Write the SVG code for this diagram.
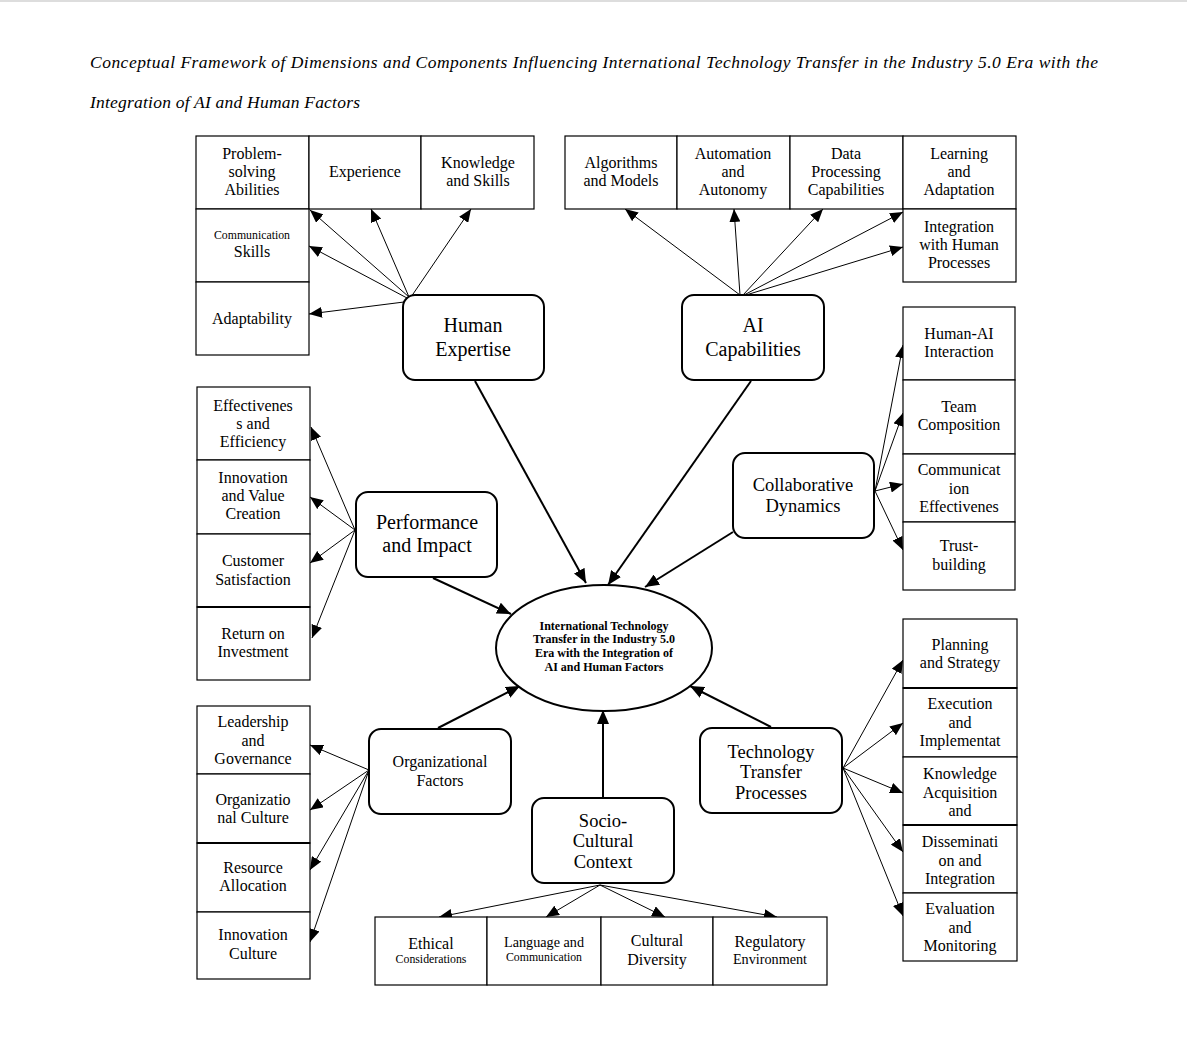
<svg xmlns="http://www.w3.org/2000/svg" width="1187" height="1053" viewBox="0 0 1187 1053">
<style>
text{font-family:"Liberation Serif","Times New Roman",serif;fill:#000;text-anchor:middle}
.t{font-size:16px}
.s{font-size:11.8px}
.m{font-size:14.2px}
.big{font-size:20px}
.mid{font-size:18.5px}
.c{font-size:12px;font-weight:bold}
.title{font-size:17.5px;font-style:italic;text-anchor:start}
.box{fill:#fff;stroke:#000;stroke-width:1.2}
.rbox{fill:#fff;stroke:#000;stroke-width:2}
.thin{stroke:#000;stroke-width:1;fill:none;marker-end:url(#ah)}
.thick{stroke:#000;stroke-width:2;fill:none;marker-end:url(#ahb)}
</style>
<defs>
<marker id="ah" markerUnits="userSpaceOnUse" markerWidth="13" markerHeight="11" refX="13" refY="5.5" orient="auto"><path d="M0,0 L13,5.5 L0,11 z" fill="#000"/></marker>
<marker id="ahb" markerUnits="userSpaceOnUse" markerWidth="14" markerHeight="12" refX="14" refY="6" orient="auto"><path d="M0,0 L14,6 L0,12 z" fill="#000"/></marker>
</defs>
<rect width="1187" height="1053" fill="#fff"/>
<line x1="0" y1="1" x2="1187" y2="1" stroke="#ddd" stroke-width="2"/>
<g id="title">
<text class="title" x="90" y="68" textLength="1008" lengthAdjust="spacing">Conceptual Framework of Dimensions and Components Influencing International Technology Transfer in the Industry 5.0 Era with the</text>
<text class="title" x="90" y="108" textLength="270" lengthAdjust="spacing">Integration of AI and Human Factors</text>
</g>

<g id="connectors">
<line class="thin" x1="409" y1="297" x2="310" y2="210"/>
<line class="thin" x1="409" y1="297" x2="371" y2="209"/>
<line class="thin" x1="411" y1="297" x2="471" y2="209"/>
<line class="thin" x1="407" y1="298" x2="309" y2="246"/>
<line class="thin" x1="404" y1="302" x2="309" y2="314"/>
<line class="thin" x1="740" y1="295" x2="625" y2="209"/>
<line class="thin" x1="740" y1="295" x2="734" y2="209"/>
<line class="thin" x1="743" y1="295" x2="823" y2="209"/>
<line class="thin" x1="744" y1="295" x2="903" y2="212"/>
<line class="thin" x1="746" y1="295" x2="903" y2="247"/>
<line class="thin" x1="875" y1="491" x2="903" y2="345"/>
<line class="thin" x1="875" y1="491" x2="903" y2="413"/>
<line class="thin" x1="875" y1="491" x2="903" y2="484"/>
<line class="thin" x1="875" y1="491" x2="903" y2="550"/>
<line class="thin" x1="355" y1="530" x2="311" y2="427"/>
<line class="thin" x1="355" y1="530" x2="310" y2="497"/>
<line class="thin" x1="355" y1="530" x2="310" y2="563"/>
<line class="thin" x1="355" y1="530" x2="312" y2="638"/>
<line class="thin" x1="369" y1="770" x2="310" y2="745"/>
<line class="thin" x1="369" y1="770" x2="310" y2="810"/>
<line class="thin" x1="369" y1="770" x2="310" y2="870"/>
<line class="thin" x1="369" y1="770" x2="310" y2="942"/>
<line class="thin" x1="843" y1="768" x2="903" y2="660"/>
<line class="thin" x1="843" y1="768" x2="903" y2="723"/>
<line class="thin" x1="843" y1="768" x2="903" y2="793"/>
<line class="thin" x1="843" y1="768" x2="903" y2="852"/>
<line class="thin" x1="843" y1="768" x2="903" y2="916"/>
<line class="thin" x1="600" y1="885" x2="439" y2="917"/>
<line class="thin" x1="600" y1="885" x2="546" y2="917"/>
<line class="thin" x1="600" y1="885" x2="665" y2="917"/>
<line class="thin" x1="600" y1="885" x2="777" y2="917"/>
<line class="thick" x1="475" y1="381" x2="586" y2="583"/>
<line class="thick" x1="751" y1="381" x2="608" y2="585"/>
<line class="thick" x1="733" y1="532" x2="645" y2="587"/>
<line class="thick" x1="433" y1="578" x2="511" y2="614"/>
<line class="thick" x1="438" y1="728" x2="520" y2="686"/>
<line class="thick" x1="603" y1="797" x2="603" y2="710"/>
<line class="thick" x1="771" y1="727" x2="690" y2="686"/>
</g>

<g id="center">
<ellipse cx="604" cy="648" rx="108" ry="63" fill="#fff" stroke="#000" stroke-width="2"/>
<text class="c" x="604" y="630">International Technology</text>
<text class="c" x="604" y="643">Transfer in the Industry 5.0</text>
<text class="c" x="604" y="657">Era with the Integration of</text>
<text class="c" x="604" y="671">AI and Human Factors</text>
</g>

<g id="human-expertise">
<rect class="rbox" x="403" y="295" width="141" height="85" rx="12"/>
<text class="big" x="473" y="332">Human</text>
<text class="big" x="473" y="356">Expertise</text>
</g>
<g id="problem-solving">
<rect class="box" x="196" y="136" width="113" height="73"/>
<text class="t" x="252" y="159">Problem-</text><text class="t" x="252" y="177">solving</text><text class="t" x="252" y="195">Abilities</text>
</g>
<g id="experience">
<rect class="box" x="309" y="136" width="112" height="73"/>
<text class="t" x="365" y="177">Experience</text>
</g>
<g id="knowledge-skills">
<rect class="box" x="421" y="136" width="113" height="73"/>
<text class="t" x="478" y="168">Knowledge</text><text class="t" x="478" y="186">and Skills</text>
</g>
<g id="communication-skills">
<rect class="box" x="196" y="209" width="113" height="73"/>
<text class="s" x="252" y="239">Communication</text><text class="t" x="252" y="257">Skills</text>
</g>
<g id="adaptability">
<rect class="box" x="196" y="282" width="113" height="73"/>
<text class="t" x="252" y="324">Adaptability</text>
</g>

<g id="ai-capabilities">
<rect class="rbox" x="682" y="295" width="142" height="85" rx="12"/>
<text class="big" x="753" y="332">AI</text>
<text class="big" x="753" y="356">Capabilities</text>
</g>
<g id="algorithms">
<rect class="box" x="565" y="136" width="112" height="73"/>
<text class="t" x="621" y="168">Algorithms</text><text class="t" x="621" y="186">and Models</text>
</g>
<g id="automation">
<rect class="box" x="677" y="136" width="113" height="73"/>
<text class="t" x="733" y="159">Automation</text><text class="t" x="733" y="177">and</text><text class="t" x="733" y="195">Autonomy</text>
</g>
<g id="data-processing">
<rect class="box" x="790" y="136" width="113" height="73"/>
<text class="t" x="846" y="159">Data</text><text class="t" x="846" y="177">Processing</text><text class="t" x="846" y="195">Capabilities</text>
</g>
<g id="learning">
<rect class="box" x="903" y="136" width="113" height="73"/>
<text class="t" x="959" y="159">Learning</text><text class="t" x="959" y="177">and</text><text class="t" x="959" y="195">Adaptation</text>
</g>
<g id="integration-human">
<rect class="box" x="903" y="209" width="113" height="73"/>
<text class="t" x="959" y="232">Integration</text><text class="t" x="959" y="250">with Human</text><text class="t" x="959" y="268">Processes</text>
</g>

<g id="collaborative">
<rect class="rbox" x="733" y="453" width="141" height="85" rx="12"/>
<text class="mid" x="803" y="491">Collaborative</text>
<text class="mid" x="803" y="512">Dynamics</text>
</g>
<g id="human-ai">
<rect class="box" x="903" y="307" width="112" height="73"/>
<text class="t" x="959" y="339">Human-AI</text><text class="t" x="959" y="357">Interaction</text>
</g>
<g id="team">
<rect class="box" x="903" y="380" width="112" height="74"/>
<text class="t" x="959" y="412">Team</text><text class="t" x="959" y="430">Composition</text>
</g>
<g id="comm-eff">
<rect class="box" x="903" y="454" width="112" height="68"/>
<text class="t" x="959" y="475">Communicat</text><text class="t" x="959" y="494">ion</text><text class="t" x="959" y="512">Effectivenes</text>
</g>
<g id="trust">
<rect class="box" x="903" y="522" width="112" height="68"/>
<text class="t" x="959" y="551">Trust-</text><text class="t" x="959" y="570">building</text>
</g>

<g id="performance">
<rect class="rbox" x="356" y="492" width="141" height="85" rx="12"/>
<text class="big" x="427" y="529">Performance</text>
<text class="big" x="427" y="552">and Impact</text>
</g>
<g id="effectiveness">
<rect class="box" x="197" y="387" width="113" height="73"/>
<text class="t" x="253" y="411">Effectivenes</text><text class="t" x="253" y="429">s and</text><text class="t" x="253" y="447">Efficiency</text>
</g>
<g id="innovation-value">
<rect class="box" x="197" y="460" width="113" height="74"/>
<text class="t" x="253" y="483">Innovation</text><text class="t" x="253" y="501">and Value</text><text class="t" x="253" y="519">Creation</text>
</g>
<g id="customer">
<rect class="box" x="197" y="534" width="113" height="73"/>
<text class="t" x="253" y="566">Customer</text><text class="t" x="253" y="585">Satisfaction</text>
</g>
<g id="roi">
<rect class="box" x="197" y="607" width="113" height="73"/>
<line x1="197" y1="607" x2="310" y2="607" stroke="#000" stroke-width="2"/>
<text class="t" x="253" y="639">Return on</text><text class="t" x="253" y="657">Investment</text>
</g>

<g id="organizational">
<rect class="rbox" x="369" y="729" width="142" height="85" rx="12"/>
<text class="t" x="440" y="767">Organizational</text>
<text class="t" x="440" y="786">Factors</text>
</g>
<g id="leadership">
<rect class="box" x="197" y="706" width="113" height="68"/>
<text class="t" x="253" y="727">Leadership</text><text class="t" x="253" y="746">and</text><text class="t" x="253" y="764">Governance</text>
</g>
<g id="org-culture">
<rect class="box" x="197" y="774" width="113" height="69"/>
<text class="t" x="253" y="805">Organizatio</text><text class="t" x="253" y="823">nal Culture</text>
</g>
<g id="resource">
<rect class="box" x="197" y="843" width="113" height="69"/>
<line x1="197" y1="843" x2="310" y2="843" stroke="#000" stroke-width="2"/>
<text class="t" x="253" y="873">Resource</text><text class="t" x="253" y="891">Allocation</text>
</g>
<g id="innovation-culture">
<rect class="box" x="197" y="912" width="113" height="67"/>
<text class="t" x="253" y="940">Innovation</text><text class="t" x="253" y="959">Culture</text>
</g>

<g id="socio-cultural">
<rect class="rbox" x="532" y="798" width="142" height="85" rx="12"/>
<text class="mid" x="603" y="827">Socio-</text>
<text class="mid" x="603" y="847">Cultural</text>
<text class="mid" x="603" y="868">Context</text>
</g>
<g id="ethical">
<rect class="box" x="375" y="917" width="112" height="68"/>
<text class="t" x="431" y="949">Ethical</text><text class="s" x="431" y="963">Considerations</text>
</g>
<g id="language">
<rect class="box" x="487" y="917" width="114" height="68"/>
<text class="m" x="544" y="947">Language and</text><text class="s" x="544" y="961">Communication</text>
</g>
<g id="cultural-diversity">
<rect class="box" x="601" y="917" width="112" height="68"/>
<text class="t" x="657" y="946">Cultural</text><text class="t" x="657" y="965">Diversity</text>
</g>
<g id="regulatory">
<rect class="box" x="713" y="917" width="114" height="68"/>
<text class="t" x="770" y="947">Regulatory</text><text class="m" x="770" y="964">Environment</text>
</g>

<g id="tech-transfer">
<rect class="rbox" x="700" y="728" width="142" height="85" rx="12"/>
<text class="mid" x="771" y="758">Technology</text>
<text class="mid" x="771" y="778">Transfer</text>
<text class="mid" x="771" y="799">Processes</text>
</g>
<g id="planning">
<rect class="box" x="903" y="619" width="114" height="69"/>
<text class="t" x="960" y="650">Planning</text><text class="t" x="960" y="668">and Strategy</text>
</g>
<g id="execution">
<rect class="box" x="903" y="688" width="114" height="69"/>
<line x1="903" y1="688" x2="1017" y2="688" stroke="#000" stroke-width="2"/>
<text class="t" x="960" y="709">Execution</text><text class="t" x="960" y="728">and</text><text class="t" x="960" y="746">Implementat</text>
</g>
<g id="knowledge-acq">
<rect class="box" x="903" y="757" width="114" height="68"/>
<text class="t" x="960" y="779">Knowledge</text><text class="t" x="960" y="798">Acquisition</text><text class="t" x="960" y="816">and</text>
</g>
<g id="dissemination">
<rect class="box" x="903" y="825" width="114" height="68"/>
<line x1="903" y1="825" x2="1017" y2="825" stroke="#000" stroke-width="2"/>
<text class="t" x="960" y="847">Disseminati</text><text class="t" x="960" y="866">on and</text><text class="t" x="960" y="884">Integration</text>
</g>
<g id="evaluation">
<rect class="box" x="903" y="893" width="114" height="68"/>
<text class="t" x="960" y="914">Evaluation</text><text class="t" x="960" y="933">and</text><text class="t" x="960" y="951">Monitoring</text>
</g>
</svg>
